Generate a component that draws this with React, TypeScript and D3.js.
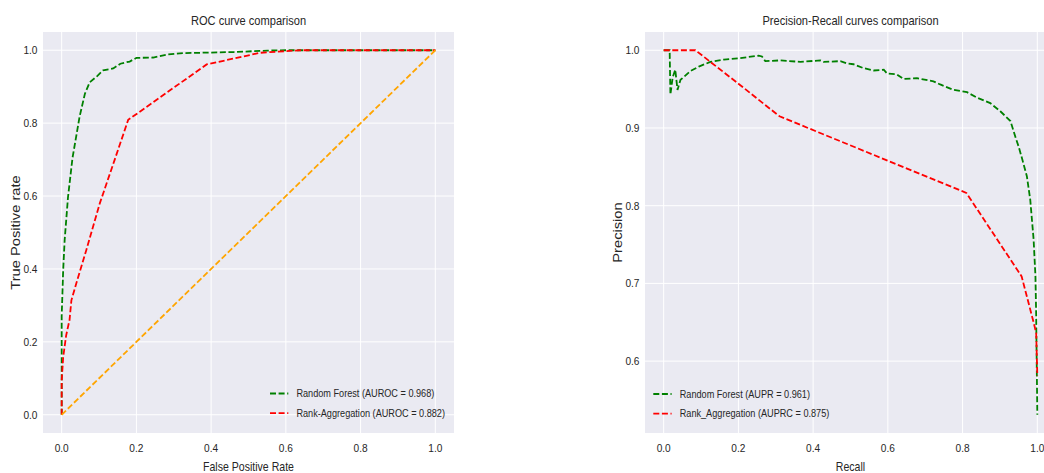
import React, { useRef, useEffect } from "react";
import * as d3 from "d3";

// ROC curves (false positive rate, true positive rate)
const rocFprForest = [0, 0, 0.004, 0.008, 0.017, 0.029, 0.048, 0.062, 0.075, 0.095, 0.111, 0.138, 0.157, 0.182, 0.2, 0.245, 0.281, 0.325, 0.46, 0.55, 0.6, 1.0];
const rocTprForest = [0, 0.27, 0.397, 0.48, 0.598, 0.705, 0.818, 0.88, 0.912, 0.929, 0.945, 0.95, 0.963, 0.969, 0.979, 0.98, 0.988, 0.992, 0.995, 0.999, 1.0, 1.0];
const rocFprRank = [0, 0, 0.004, 0.012, 0.021, 0.026, 0.039, 0.066, 0.102, 0.142, 0.178, 0.388, 0.531, 0.638, 1.0];
const rocTprRank = [0, 0.094, 0.158, 0.218, 0.26, 0.314, 0.36, 0.452, 0.58, 0.7, 0.809, 0.961, 0.993, 1.0, 1.0];
const rocDiagonal = [0, 1];

// precision-recall curves (recall, precision)
const prRecallForest = [0, 0.016, 0.018, 0.024, 0.031, 0.037, 0.045, 0.055, 0.071, 0.094, 0.125, 0.161, 0.205, 0.254, 0.263, 0.272, 0.312, 0.366, 0.419, 0.428, 0.473, 0.491, 0.508, 0.535, 0.562, 0.589, 0.598, 0.624, 0.642, 0.678, 0.722, 0.74, 0.776, 0.812, 0.839, 0.874, 0.901, 0.928, 0.941, 0.95, 0.959, 0.972, 0.981, 0.99, 0.995, 0.997, 1.0];
const prPrecisionForest = [1, 1, 0.943, 0.965, 0.975, 0.949, 0.962, 0.966, 0.973, 0.979, 0.985, 0.988, 0.99, 0.993, 0.992, 0.986, 0.987, 0.985, 0.987, 0.985, 0.986, 0.983, 0.982, 0.977, 0.974, 0.975, 0.97, 0.969, 0.963, 0.964, 0.96, 0.956, 0.949, 0.946, 0.939, 0.932, 0.9215, 0.909, 0.889, 0.876, 0.861, 0.838, 0.808, 0.757, 0.709, 0.658, 0.531];
const prRecallRank = [0, 0.085, 0.2, 0.31, 0.81, 0.958, 0.99, 0.997, 1.0];
const prPrecisionRank = [1, 1, 0.957, 0.915, 0.8165, 0.709, 0.65, 0.636, 0.581];

const unitTicks = [0, 0.2, 0.4, 0.6, 0.8, 1.0];
const prPrecisionTicks = [0.6, 0.7, 0.8, 0.9, 1.0];

const rocLegend = ["Random Forest (AUROC = 0.968)", "Rank-Aggregation (AUROC = 0.882)"];
const prLegend = ["Random Forest (AUPR = 0.961)", "Rank_Aggregation (AUPRC = 0.875)"];

const WIDTH = 1044;
const HEIGHT = 473;
const SQUASH = 0.88; // the picture's text is a bit narrower than plain Arial
const FONT = "'Liberation Sans', Arial, sans-serif";
const INK = "#262626";
const DASH = "6 2.6";

type Series = { x: number[]; y: number[]; color: string };

type Panel = {
  id: string;
  left: number;
  right: number;
  top: number;
  bottom: number;
  xDomain: [number, number];
  yDomain: [number, number];
  xTicks: number[];
  yTicks: number[];
  title: string;
  xLabel: string;
  yLabel: string;
  yLabelX: number;
  series: Series[];
  legendX: number;
  legendY: number;
  legend: string[];
};

function addText(g: any, x: number, y: number, str: string, size: number, anchor = "middle", rotate = false) {
  return g
    .append("text")
    .attr(
      "transform",
      rotate ? `translate(${x},${y}) rotate(-90) scale(1,${SQUASH})` : `translate(${x},${y}) scale(${SQUASH},1)`
    )
    .attr("text-anchor", anchor)
    .attr("font-family", FONT)
    .attr("font-size", size)
    .attr("fill", INK)
    .text(str);
}

function drawPanel(svg: any, p: Panel) {
  const g = svg.append("g");

  const xScale = d3.scaleLinear().domain(p.xDomain).range([p.left, p.right]);
  const yScale = d3.scaleLinear().domain(p.yDomain).range([p.bottom, p.top]);

  // background
  g.append("rect")
    .attr("x", p.left)
    .attr("y", p.top)
    .attr("width", p.right - p.left)
    .attr("height", p.bottom - p.top)
    .attr("fill", "#EAEAF2");

  // grid
  g.selectAll(".vgrid")
    .data(p.xTicks)
    .join("line")
    .attr("x1", (d: number) => xScale(d))
    .attr("x2", (d: number) => xScale(d))
    .attr("y1", p.top)
    .attr("y2", p.bottom)
    .attr("stroke", "#fff")
    .attr("stroke-width", 1);

  g.selectAll(".hgrid")
    .data(p.yTicks)
    .join("line")
    .attr("x1", p.left)
    .attr("x2", p.right)
    .attr("y1", (d: number) => yScale(d))
    .attr("y2", (d: number) => yScale(d))
    .attr("stroke", "#fff")
    .attr("stroke-width", 1);

  // tick labels
  p.xTicks.forEach((t) => addText(g, xScale(t), p.bottom + 19, d3.format(".1f")(t), 11.5));
  p.yTicks.forEach((t) =>
    addText(g, p.left - 5.5, yScale(t), d3.format(".1f")(t), 11.5, "end").attr("dy", "0.35em")
  );

  // labels
  addText(g, (p.left + p.right) / 2, 25, p.title, 12.6);
  addText(g, (p.left + p.right) / 2, 470.5, p.xLabel, 12);
  addText(g, p.yLabelX, (p.top + p.bottom) / 2, p.yLabel, 14.7, "middle", true);

  // curves
  g.append("clipPath")
    .attr("id", p.id)
    .append("rect")
    .attr("x", p.left)
    .attr("y", p.top)
    .attr("width", p.right - p.left)
    .attr("height", p.bottom - p.top);

  p.series.forEach((s) => {
    const pts: [number, number][] = s.x.map((x, i) => [xScale(x), yScale(s.y[i])]);
    g.append("path")
      .datum(pts)
      .attr("clip-path", `url(#${p.id})`)
      .attr("fill", "none")
      .attr("stroke", s.color)
      .attr("stroke-width", 1.8)
      .attr("stroke-dasharray", DASH)
      .attr("d", d3.line());
  });

  // legend (no frame)
  p.legend.forEach((label, i) => {
    const y = p.legendY + i * 19.7;
    g.append("line")
      .attr("x1", p.legendX)
      .attr("x2", p.legendX + 18.3)
      .attr("y1", y)
      .attr("y2", y)
      .attr("stroke", p.series[i].color)
      .attr("stroke-width", 1.8)
      .attr("stroke-dasharray", DASH);
    addText(g, p.legendX + 26.4, y, label, 10.4, "start").attr("dy", "0.35em");
  });
}

const App = () => {
  const ref = useRef<SVGSVGElement>(null);

  useEffect(() => {
    const svg = d3.select(ref.current);
    svg.selectAll("*").remove();

    drawPanel(svg, {
      id: "clip-roc",
      left: 43,
      right: 454,
      top: 32,
      bottom: 433,
      xDomain: [-0.05, 1.05],
      yDomain: [-0.05, 1.05],
      xTicks: unitTicks,
      yTicks: unitTicks,
      title: "ROC curve comparison",
      xLabel: "False Positive Rate",
      yLabel: "True Positive rate",
      yLabelX: 20,
      series: [
        { x: rocFprForest, y: rocTprForest, color: "green" },
        { x: rocFprRank, y: rocTprRank, color: "red" },
        { x: rocDiagonal, y: rocDiagonal, color: "orange" },
      ],
      legendX: 270,
      legendY: 393.5,
      legend: rocLegend,
    });

    drawPanel(svg, {
      id: "clip-pr",
      left: 645,
      right: 1056,
      top: 32,
      bottom: 433,
      xDomain: [-0.05, 1.05],
      yDomain: [0.5075, 1.0235],
      xTicks: unitTicks,
      yTicks: prPrecisionTicks,
      title: "Precision-Recall curves comparison",
      xLabel: "Recall",
      yLabel: "Precision",
      yLabelX: 622,
      series: [
        { x: prRecallForest, y: prPrecisionForest, color: "green" },
        { x: prRecallRank, y: prPrecisionRank, color: "red" },
      ],
      legendX: 653.3,
      legendY: 394,
      legend: prLegend,
    });
  }, []);

  return (
    <svg
      ref={ref}
      width={WIDTH}
      height={HEIGHT}
      style={{ position: "absolute", left: 0, top: 0, background: "#fff" }}
    ></svg>
  );
};

export default App;
